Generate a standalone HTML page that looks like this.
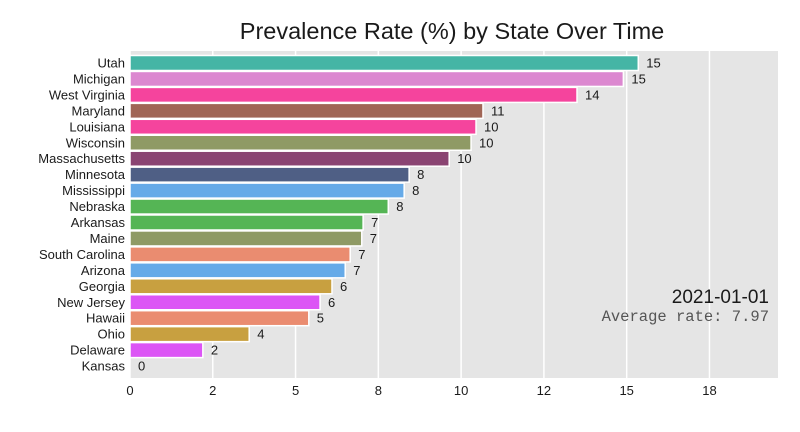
<!DOCTYPE html>
<html><head><meta charset="utf-8"><style>
body{margin:0;background:#fff;}
svg{display:block;font-family:"Liberation Sans",sans-serif;}
</style></head><body>
<svg id="chart" width="800" height="432">
<text x="452" y="39" text-anchor="middle" font-size="23.5" fill="#1a1a1a">Prevalence Rate (%) by State Over Time</text>
<rect x="130" y="51" width="648" height="327" fill="#e5e5e5"/>
<g id="grid"></g><g id="bars"></g><g id="xticks"></g>
<text x="769" y="303" text-anchor="end" font-size="19" fill="#1a1a1a">2021-01-01</text>
<text x="769" y="321" text-anchor="end" font-size="15.5" font-family="Liberation Mono, monospace" fill="#555">Average rate: 7.97</text>
</svg>
<script>
const states=["Utah","Michigan","West Virginia","Maryland","Louisiana","Wisconsin","Massachusetts","Minnesota","Mississippi","Nebraska","Arkansas","Maine","South Carolina","Arizona","Georgia","New Jersey","Hawaii","Ohio","Delaware","Kansas"];
const values=[15.35,14.9,13.5,10.66,10.45,10.3,9.64,8.43,8.28,7.8,7.04,7.0,6.65,6.5,6.1,5.74,5.4,3.6,2.2,0];
const colors=["#45b5a5","#dc88d0","#f5449d","#a06555","#f5449d","#8f9a65","#8a4472","#4f5f85","#66aae8","#55b555","#55b555","#8f9a65","#ea8c70","#66aae8","#c8a040","#dc55f5","#ea8c70","#c8a040","#dc55f5","#888888"];
const tickValues=[0,2.5,5,7.5,10,12.5,15,17.5];
const tickLabels=["0","2","5","8","10","12","15","18"];
const NS="http://www.w3.org/2000/svg";
const x0=130,xmax=19.57,pw=648;
function xs(v){return x0+v/xmax*pw;}
function ys(i){return 63+i*15.95;}
function mk(t,a,p){const e=document.createElementNS(NS,t);for(const k in a)e.setAttribute(k,a[k]);p.appendChild(e);return e;}
const grid=document.getElementById('grid'),bars=document.getElementById('bars'),xt=document.getElementById('xticks');
tickValues.forEach((v,i)=>{
 const l=mk('line',{x1:xs(v),x2:xs(v),y1:51,y2:378,stroke:'#fff','stroke-width':1.5},grid);
 
 
 const t=mk('text',{x:xs(v),y:395,'text-anchor':'middle','font-size':13,fill:'#1a1a1a'},xt);
 t.textContent=tickLabels[i];
 
 
});
states.forEach((s,i)=>{
 const y=ys(i);
 if(values[i]>0){
  const r=mk('rect',{x:x0,y:y-7.5,width:xs(values[i])-x0,height:15,fill:colors[i],stroke:'#fff','stroke-width':1.5},bars);
  
  
 }
 const lb=mk('text',{x:125,y:y+4.5,'text-anchor':'end','font-size':13,fill:'#1a1a1a'},bars);
 lb.textContent=s;
 
 
 const vl=mk('text',{x:xs(values[i])+8,y:y+4.5,'font-size':13,fill:'#1a1a1a'},bars);
 vl.textContent=Math.round(values[i]);
 
 
});
</script>
</body></html>
